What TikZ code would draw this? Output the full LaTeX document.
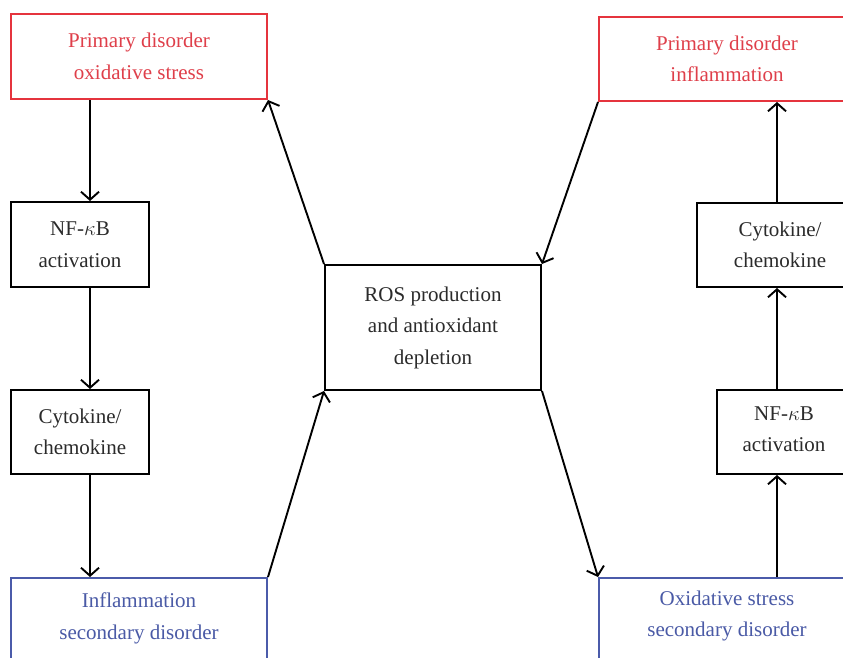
\documentclass[tikz,border=0pt]{standalone}
\usepackage{fontspec}
\setmainfont{Liberation Serif}
\usetikzlibrary{arrows.meta}
\definecolor{boxred}{HTML}{E5343D}
\definecolor{txtred}{HTML}{DF3F4A}
\definecolor{boxblue}{HTML}{4B5BAA}
\definecolor{txtblue}{HTML}{4A5AA6}
\definecolor{txtdark}{HTML}{2B2B2B}
\tikzset{
  base/.style={draw, rectangle, line width=2pt, inner sep=0pt, align=center,
    font=\fontsize{21}{31.5}\selectfont},
  blackbox/.style={base, draw=black, text=txtdark},
  redbox/.style={base, draw=boxred, text=txtred},
  bluebox/.style={base, draw=boxblue, text=txtblue},
  arr/.style={line width=1.9pt, -{Straight Barb[length=8pt,width=18pt,line width=1.9pt]}}
}
\begin{document}
\begin{tikzpicture}[x=1pt,y=-1pt]
\useasboundingbox (0,0) rectangle (843,657);
\fill[white] (0,0) rectangle (843,657);
\clip (0,0) rectangle (843,657);
% nodes
\node[redbox, minimum width=256pt, minimum height=85pt] (tl) at (139,56.5) {Primary disorder\\oxidative stress};
\node[blackbox, minimum width=138pt, minimum height=85pt] (nfL) at (80,244.5) {NF-$\kappa$B\\activation};
\node[blackbox, minimum width=138pt, minimum height=84pt] (cyL) at (80,432) {Cytokine/\\chemokine};
\node[bluebox, minimum width=256pt, minimum height=85pt] (bl) at (139,620.5) {};
\node[text=txtblue, align=center, font=\fontsize{21}{31.5}\selectfont] (blt) at (139,618.5) {Inflammation\\secondary disorder};
\node[blackbox, minimum width=216pt, minimum height=125pt] (ros) at (433,327.5) {ROS production\\and antioxidant\\depletion};
\node[redbox, minimum width=256pt, minimum height=84pt] (tr) at (727,59) {Primary disorder\\inflammation};
\node[blackbox, minimum width=166pt, minimum height=84pt] (cyR) at (780,245) {Cytokine/\\chemokine};
\node[blackbox, minimum width=134pt, minimum height=84pt] (nfR) at (784,432) {};
\node[text=txtdark, align=center, font=\fontsize{21}{31.5}\selectfont] (nfRt) at (784,429) {NF-$\kappa$B\\activation};
\node[bluebox, minimum width=256pt, minimum height=85pt] (br) at (727,620.5) {};
\node[text=txtblue, align=center, font=\fontsize{21}{31.5}\selectfont] (brt) at (727,616) {Oxidative stress\\secondary disorder};
% column coordinates
\coordinate (colL) at (90,0);
\coordinate (colR) at (777,0);
% left column
\draw[arr] (tl.south -| colL) -- (nfL.north -| colL);
\draw[arr] (nfL.south -| colL) -- (cyL.north -| colL);
\draw[arr] (cyL.south -| colL) -- (bl.north -| colL);
% right column
\draw[arr] (br.north -| colR) -- (nfR.south -| colR);
\draw[arr] (nfR.north -| colR) -- (cyR.south -| colR);
\draw[arr] (cyR.north -| colR) -- (tr.south -| colR);
% diagonals
\draw[arr] (bl.north east) -- (ros.south west);
\draw[arr] (ros.north west) -- (tl.south east);
\draw[arr] (tr.south west) -- (ros.north east);
\draw[arr] (ros.south east) -- (br.north west);
\end{tikzpicture}
\end{document}
